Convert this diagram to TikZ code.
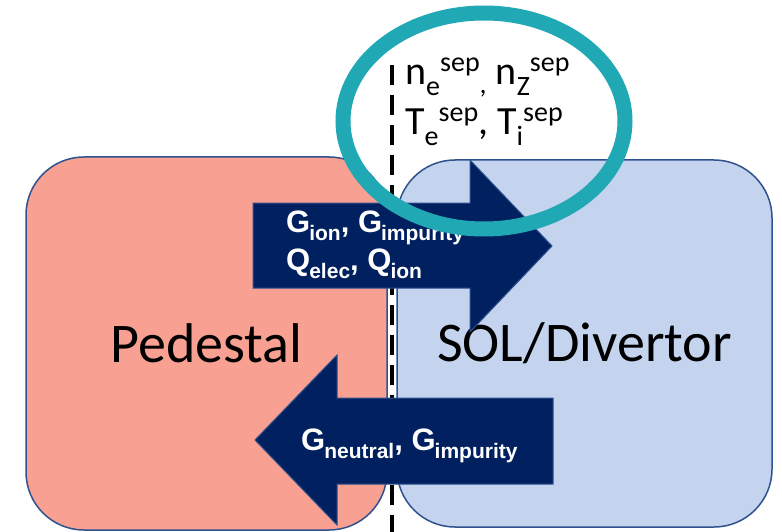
\documentclass[tikz,border=0pt]{standalone}
\usepackage{fontspec}
\setmainfont{Carlito}
\newfontfamily\arialf{Liberation Sans}
\definecolor{pedfill}{RGB}{248,160,145}
\definecolor{solfill}{RGB}{196,211,238}
\definecolor{boxline}{RGB}{47,82,143}
\definecolor{navy}{RGB}{0,32,96}
\definecolor{tealring}{RGB}{33,168,181}
\newcommand\gsub[2]{#1\kern-1pt\raisebox{-8pt}{\fontsize{21}{21}\selectfont #2}}
\newcommand\sepq[3]{#1\raisebox{-11pt}{\fontsize{28}{28}\selectfont #2}\raisebox{13pt}{\fontsize{28}{28}\selectfont #3}}
\tikzset{
  region/.style={draw=boxline, line width=1.5pt, rounded corners=58pt, inner sep=0pt,
    font=\fontsize{56}{60}\selectfont},
  flowarrow/.style={fill=navy, draw=boxline, line width=1pt},
  flowtext/.style={anchor=base west, inner sep=0pt, text=white,
    font=\arialf\bfseries\fontsize{31}{36}\selectfont},
  septext/.style={anchor=base west, inner sep=0pt,
    font=\fontsize{40}{44}\selectfont},
}
\begin{document}
\begin{tikzpicture}[x=1pt, y=-1pt]
\useasboundingbox (0,0) rectangle (782,532);
% regions
\node[region, fill=pedfill, minimum width=361pt, minimum height=373pt] (ped) at (206.5,343.5) {Pedestal};
\node[region, fill=solfill, minimum width=375pt, minimum height=367pt] (sol) at (584.5,343.5) {SOL/Divertor};
% separatrix
\coordinate (septop) at (392,65);
\coordinate (sepbot) at (392,540);
\draw[line width=4.5pt, dash pattern=on 20pt off 10pt] (septop) -- (sepbot);
% outward flux arrow
\draw[flowarrow] (253,203) -- (470,203) -- (470,160) -- (552,246) -- (470,332) -- (470,288) -- (253,288) -- cycle;
\node[flowtext] (out1) at (286,232) {\gsub{G}{ion}, \gsub{G}{impurity}};
\node[flowtext] (out2) at (286,270) {\gsub{Q}{elec}, \gsub{Q}{ion}};
% inward flux arrow
\draw[flowarrow] (255,440) -- (337,355) -- (337,398) -- (553,398) -- (553,484) -- (337,484) -- (337,525) -- cycle;
\node[flowtext] (in1) at (301,450) {\gsub{G}{neutral}, \gsub{G}{impurity}};
% separatrix quantities
\node[septext] (sq1) at (405,85) {\sepq{n}{e}{sep}\raisebox{-9pt}{\fontsize{28}{28}\selectfont,} \sepq{n}{Z}{sep}};
\node[septext] (sq2) at (405,135) {\sepq{T}{e}{sep}, \sepq{T}{i}{sep}};
\draw[tealring, line width=15pt] (484,121) ellipse [x radius=141pt, y radius=108pt];
\end{tikzpicture}
\end{document}
